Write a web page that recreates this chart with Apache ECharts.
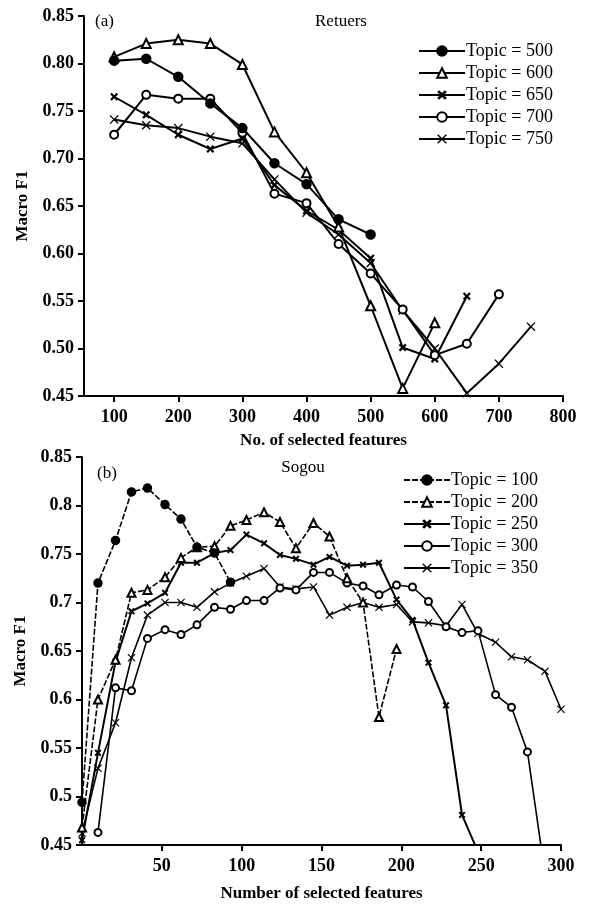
<!DOCTYPE html>
<html>
<head>
<meta charset="utf-8">
<script src="https://cdn.jsdelivr.net/npm/echarts@6/dist/echarts.min.js"></script>
<style>
  html, body { margin: 0; padding: 0; background: #fff; }
  #chart { width: 589px; height: 909px; }
</style>
</head>
<body>
<div id="chart"></div>
<script>
// (a) Retuers
const xA = [100, 150, 200, 250, 300, 350, 400, 450, 500, 550, 600, 650, 700, 750];
const ticksA = [100, 200, 300, 400, 500, 600, 700, 800];
const t500 = [0.803, 0.805, 0.786, 0.758, 0.732, 0.695, 0.673, 0.636, 0.620];
const t600 = [0.807, 0.821, 0.825, 0.821, 0.799, 0.728, 0.685, 0.628, 0.545, 0.458, 0.527];
const t650 = [0.765, 0.746, 0.725, 0.710, 0.721, 0.672, 0.645, 0.625, 0.595, 0.501, 0.489, 0.555];
const t700 = [0.725, 0.767, 0.763, 0.763, 0.727, 0.663, 0.653, 0.610, 0.579, 0.541, 0.493, 0.505, 0.557];
const t750 = [0.741, 0.735, 0.732, 0.723, 0.716, 0.678, 0.643, 0.620, 0.590, 0.540, 0.500, 0.453, 0.484, 0.523];

// (b) Sogou
const xB = [0, 10, 21, 31, 41, 52, 62, 72, 83, 93, 103, 114, 124, 134, 145, 155, 166, 176, 186, 197, 207, 217, 228, 238, 248, 259, 269, 279, 290, 300];
const ticksB = [50, 100, 150, 200, 250, 300];
const t100 = [0.494, 0.720, 0.764, 0.814, 0.818, 0.801, 0.786, 0.757, 0.751, 0.721];
const t200 = [0.468, 0.600, 0.641, 0.710, 0.713, 0.726, 0.746, 0.757, 0.758, 0.779, 0.785, 0.793, 0.783, 0.756, 0.782, 0.768, 0.725, 0.700, 0.582, 0.652];
const t250 = [0.455, 0.545, 0.639, 0.691, 0.699, 0.710, 0.741, 0.741, 0.751, 0.754, 0.770, 0.761, 0.749, 0.745, 0.739, 0.747, 0.738, 0.739, 0.741, 0.703, 0.682, 0.638, 0.594, 0.481, 0.443];
const t300 = [null, 0.463, 0.612, 0.609, 0.663, 0.672, 0.667, 0.677, 0.695, 0.693, 0.702, 0.702, 0.715, 0.713, 0.731, 0.731, 0.720, 0.717, 0.708, 0.718, 0.716, 0.701, 0.675, 0.669, 0.671, 0.605, 0.592, 0.546, 0.420];
const t350 = [0.462, 0.529, 0.576, 0.643, 0.687, 0.700, 0.700, 0.695, 0.711, 0.720, 0.727, 0.735, 0.716, 0.714, 0.716, 0.687, 0.695, 0.700, 0.695, 0.698, 0.680, 0.679, 0.676, 0.698, 0.668, 0.659, 0.644, 0.641, 0.629, 0.590];

const FONT = 'Liberation Serif';
const boldX = 'path://M0,2L2,0L5,3L8,0L10,2L7,5L10,8L8,10L5,7L2,10L0,8L3,5Z';
const thinX = 'path://M0,1L1,0L5,4L9,0L10,1L6,5L10,9L9,10L5,6L1,10L0,9L4,5Z';

function pairs(xs, ys) {
    return ys.map(function (v, i) { return [xs[i], v]; });
}

function mkSeries(name, xs, ys, idx, symbol, opts) {
    opts = opts || {};
    return {
        name: name,
        type: 'line',
        xAxisIndex: idx,
        yAxisIndex: idx,
        data: pairs(xs, ys),
        symbol: symbol,
        symbolSize: opts.size || 8,
        color: '#000',
        lineStyle: { color: '#000', width: opts.width || 2, type: opts.dash || 'solid' },
        itemStyle: { color: '#000', borderColor: '#000', borderWidth: opts.border != null ? opts.border : 1.5 },
        emphasis: { disabled: true },
        animation: false,
        z: opts.z || 2
    };
}

function xAxisCfg(idx, min, max, ticks, name, gap) {
    return {
        type: 'value', gridIndex: idx, min: min, max: max,
        name: name, nameLocation: 'middle', nameGap: gap,
        nameTextStyle: { fontFamily: FONT, fontSize: 17, fontWeight: 'bold', color: '#000' },
        axisLine: { lineStyle: { color: '#000', width: 2 } },
        axisTick: { show: true, length: 6, lineStyle: { color: '#000', width: 2 }, customValues: ticks },
        axisLabel: { customValues: ticks, margin: 12, fontFamily: FONT, fontSize: 18, fontWeight: 'bold', color: '#000' },
        splitLine: { show: false }
    };
}

function yAxisCfg(idx, fmt) {
    return {
        type: 'value', gridIndex: idx, min: 0.45, max: 0.85, interval: 0.05,
        name: 'Macro F1', nameLocation: 'middle', nameGap: 52,
        nameTextStyle: { fontFamily: FONT, fontSize: 17, fontWeight: 'bold', color: '#000' },
        axisLine: { show: true, lineStyle: { color: '#000', width: 2 } },
        axisTick: { show: true, length: 6, lineStyle: { color: '#000', width: 2 } },
        axisLabel: { margin: 10, fontFamily: FONT, fontSize: 18, fontWeight: 'bold', color: '#000', formatter: fmt },
        splitLine: { show: false }
    };
}

function legendCfg(names, left, top) {
    return {
        data: names, orient: 'vertical', left: left, top: top,
        itemWidth: 46, itemHeight: 12, itemGap: 4,
        textStyle: { fontFamily: FONT, fontSize: 18, color: '#000', padding: [0, 0, 0, -4] },
        selectedMode: false
    };
}

let chartDom = document.getElementById('chart');
let myChart = echarts.init(chartDom, null, { renderer: 'canvas' });
let option;

const textStyle = { fontFamily: FONT, fontSize: 17, fontWeight: 'normal', color: '#000' };

option = {
    backgroundColor: '#fff',
    animation: false,
    title: [
        { text: '(a)', left: 90, top: 8, textStyle: textStyle },
        { text: 'Retuers', left: 336, top: 8, textAlign: 'center', textStyle: textStyle },
        { text: '(b)', left: 92, top: 460, textStyle: textStyle },
        { text: 'Sogou', left: 298, top: 454, textAlign: 'center', textStyle: textStyle }
    ],
    legend: [
        legendCfg(['Topic = 500', 'Topic = 600', 'Topic = 650', 'Topic = 700', 'Topic = 750'], 413, 37),
        legendCfg(['Topic = 100', 'Topic = 200', 'Topic = 250', 'Topic = 300', 'Topic = 350'], 398, 466)
    ],
    grid: [
        { left: 84, top: 16, width: 479, height: 380, outerBoundsMode: 'none' },
        { left: 82, top: 457, width: 479, height: 388, outerBoundsMode: 'none' }
    ],
    xAxis: [
        xAxisCfg(0, 53, 800, ticksA, 'No. of selected features', 36),
        xAxisCfg(1, 0, 300, ticksB, 'Number of selected features', 40)
    ],
    yAxis: [
        yAxisCfg(0, function (v) { return v.toFixed(2); }),
        yAxisCfg(1, function (v) { return String(parseFloat(v.toFixed(2))); })
    ],
    series: [
        mkSeries('Topic = 500', xA, t500, 0, 'circle', { size: 9, z: 5 }),
        mkSeries('Topic = 600', xA, t600, 0, 'emptyTriangle', { size: 9, z: 4 }),
        mkSeries('Topic = 650', xA, t650, 0, boldX, { border: 0, size: 8 }),
        mkSeries('Topic = 700', xA, t700, 0, 'emptyCircle', { size: 8, z: 3 }),
        mkSeries('Topic = 750', xA, t750, 0, thinX, { border: 0, size: 9 }),

        mkSeries('Topic = 100', xB, t100, 1, 'circle', { size: 8, width: 1.6, dash: [6, 2], z: 5 }),
        mkSeries('Topic = 200', xB, t200, 1, 'emptyTriangle', { size: 8, width: 1.6, dash: [6, 2], z: 4 }),
        mkSeries('Topic = 250', xB, t250, 1, boldX, { size: 7, width: 2, border: 0 }),
        mkSeries('Topic = 300', xB, t300, 1, 'emptyCircle', { size: 7, width: 1.6, z: 3 }),
        mkSeries('Topic = 350', xB, t350, 1, thinX, { size: 8, width: 1.6, border: 0 })
    ]
};

option && myChart.setOption(option);
</script>
</body>
</html>
